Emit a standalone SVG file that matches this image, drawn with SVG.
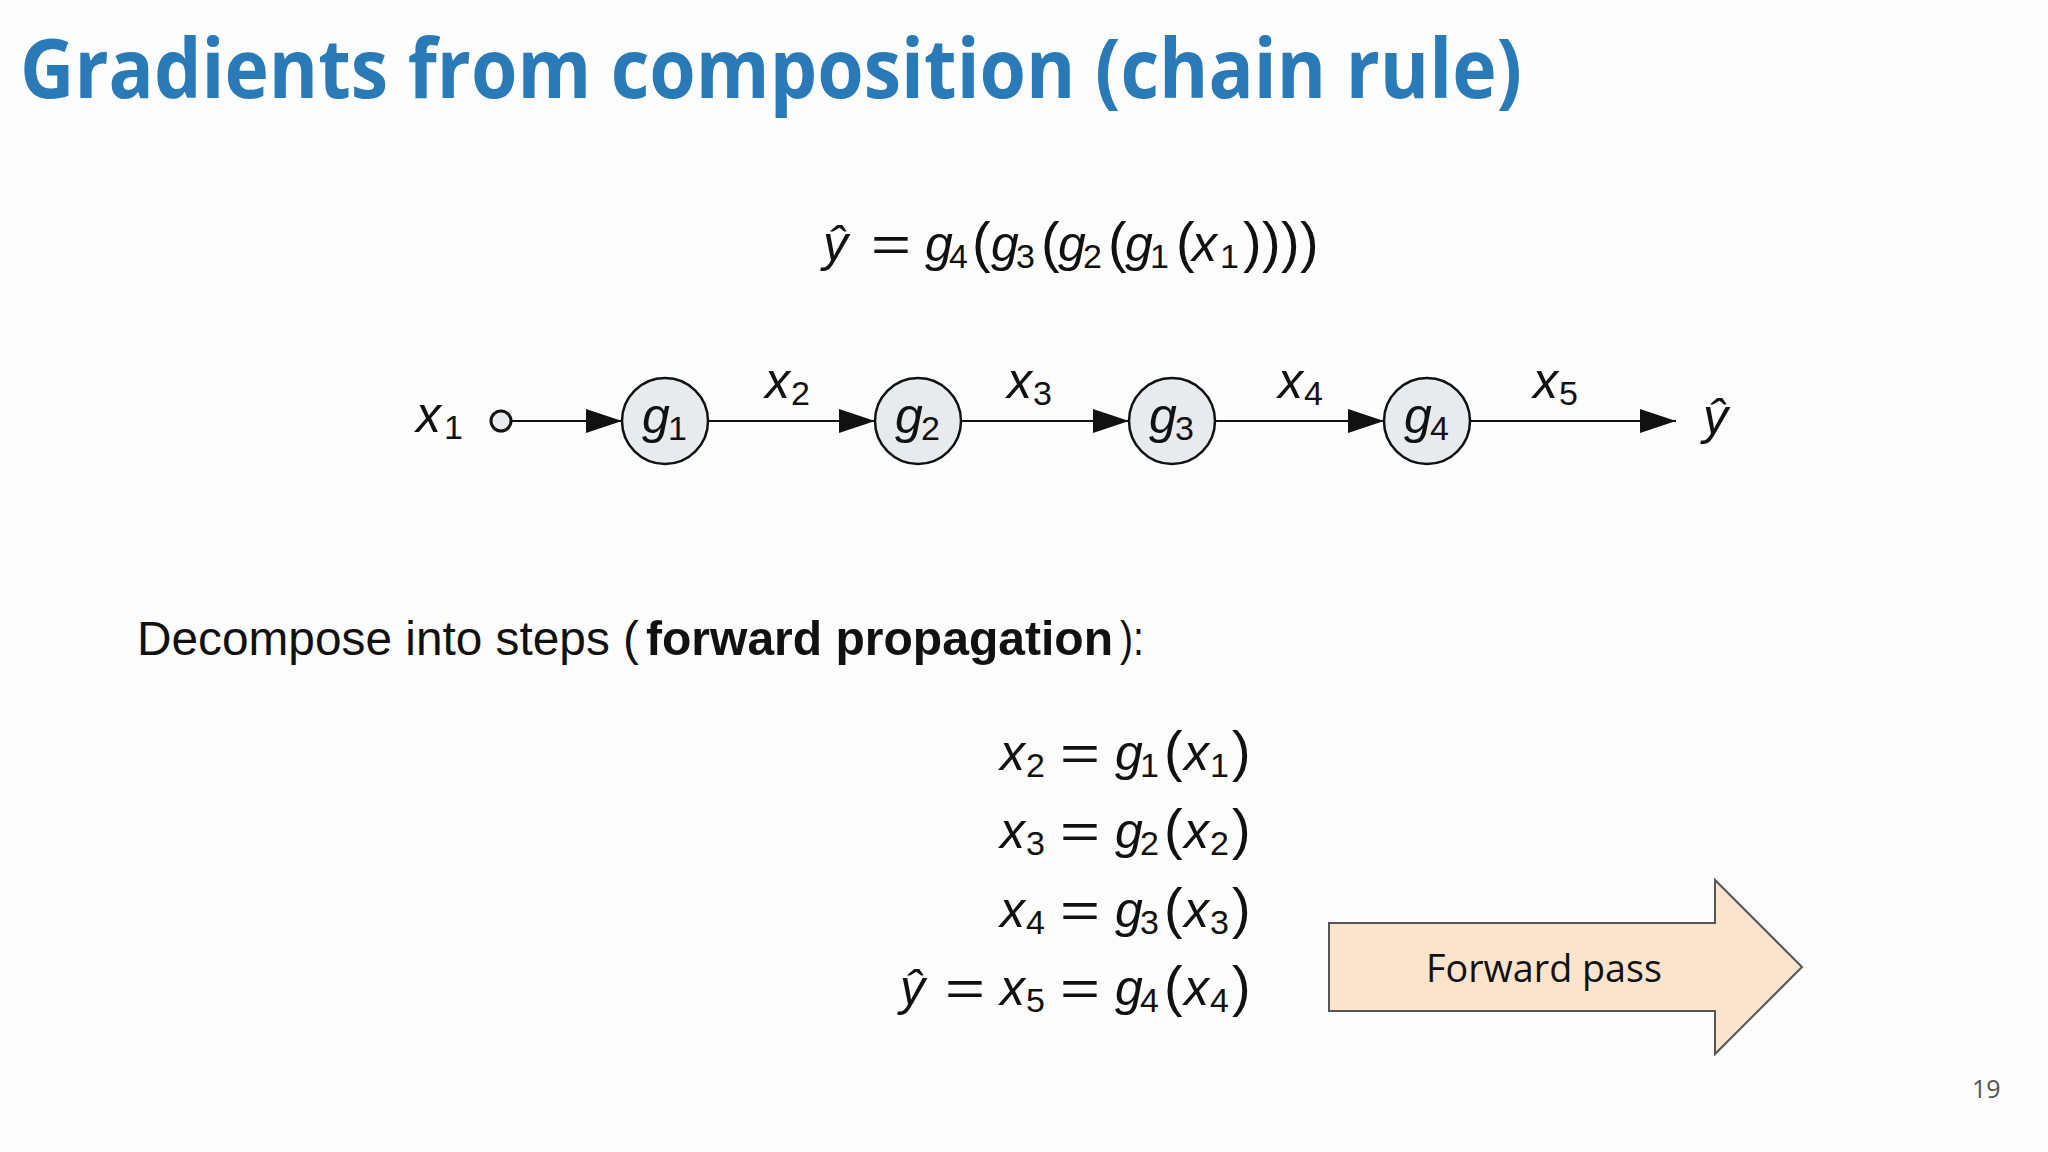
<svg xmlns="http://www.w3.org/2000/svg" width="2048" height="1152" viewBox="0 0 2048 1152">
<style>
.title{font-family:"Open Sans","Liberation Sans",sans-serif;font-weight:700;font-size:82px;fill:#2a7ab8}
.m{font-family:"Liberation Sans","DejaVu Sans",sans-serif;font-size:50px;fill:#111}
.v{font-style:italic}
.s{font-size:34px;font-style:normal}
.p{font-size:56px;font-style:normal}
.body{font-family:"Liberation Sans","DejaVu Sans",sans-serif;font-size:48px;fill:#111}
.node{fill:#e9eaeb;stroke:#111;stroke-width:2.5}
.edge{stroke:#111;stroke-width:2.2;fill:none;marker-end:url(#ah)}
.fp{font-family:"Open Sans","Noto Sans",sans-serif;font-size:38px;fill:#111}
</style>
<defs>
<marker id="ah" markerUnits="userSpaceOnUse" markerWidth="36" markerHeight="24" refX="36" refY="12" orient="auto">
<path d="M0,0 L36,12 L0,24 z" fill="#111"/>
</marker>
</defs>
<rect width="2048" height="1152" fill="#fdfdfd"/>
<text class="title" x="20" y="98" textLength="1502" lengthAdjust="spacingAndGlyphs">Gradients from composition (chain rule)</text>

<g id="top-equation">
<text class="m" x="823" y="261"><tspan class="v">ŷ</tspan><tspan x="925" class="v">g</tspan><tspan x="949" dy="7" class="s">4</tspan><tspan x="972" dy="-7" class="p">(</tspan><tspan x="991" class="v">g</tspan><tspan x="1016" dy="7" class="s">3</tspan><tspan x="1041" dy="-7" class="p">(</tspan><tspan x="1058" class="v">g</tspan><tspan x="1083" dy="7" class="s">2</tspan><tspan x="1108" dy="-7" class="p">(</tspan><tspan x="1125" class="v">g</tspan><tspan x="1150" dy="7" class="s">1</tspan><tspan x="1176" dy="-7" class="p">(</tspan><tspan x="1192" class="v">x</tspan><tspan x="1220" dy="7" class="s">1</tspan><tspan x="1243" dy="-7" class="p">)</tspan><tspan x="1262" class="p">)</tspan><tspan x="1281" class="p">)</tspan><tspan x="1300" class="p">)</tspan></text>
<text class="m" x="871" y="261" textLength="40" lengthAdjust="spacingAndGlyphs">=</text>
</g>

<g id="connectors">
<line class="edge" x1="512" y1="421" x2="622" y2="421"/>
<line class="edge" x1="708" y1="421" x2="875" y2="421"/>
<line class="edge" x1="961" y1="421" x2="1129" y2="421"/>
<line class="edge" x1="1215" y1="421" x2="1384" y2="421"/>
<line class="edge" x1="1470" y1="421" x2="1676" y2="421"/>
</g>

<g id="edge-labels">
<text class="m" x="765" y="398"><tspan class="v">x</tspan><tspan x="791" dy="7" class="s">2</tspan></text>
<text class="m" x="1007" y="398"><tspan class="v">x</tspan><tspan x="1033" dy="7" class="s">3</tspan></text>
<text class="m" x="1278" y="398"><tspan class="v">x</tspan><tspan x="1304" dy="7" class="s">4</tspan></text>
<text class="m" x="1533" y="398"><tspan class="v">x</tspan><tspan x="1559" dy="7" class="s">5</tspan></text>
</g>

<g id="input-x1">
<circle cx="501" cy="421" r="10" fill="#e9eaeb" stroke="#111" stroke-width="3"/>
<text class="m" x="416" y="432"><tspan class="v">x</tspan><tspan x="444" dy="7" class="s">1</tspan></text>
</g>
<g id="node-g1">
<circle class="node" cx="665" cy="421" r="43"/>
<text class="m" x="642" y="433"><tspan class="v">g</tspan><tspan x="668" dy="7" class="s">1</tspan></text>
</g>
<g id="node-g2">
<circle class="node" cx="918" cy="421" r="43"/>
<text class="m" x="895" y="433"><tspan class="v">g</tspan><tspan x="921" dy="7" class="s">2</tspan></text>
</g>
<g id="node-g3">
<circle class="node" cx="1172" cy="421" r="43"/>
<text class="m" x="1149" y="433"><tspan class="v">g</tspan><tspan x="1175" dy="7" class="s">3</tspan></text>
</g>
<g id="node-g4">
<circle class="node" cx="1427" cy="421" r="43"/>
<text class="m" x="1404" y="433"><tspan class="v">g</tspan><tspan x="1430" dy="7" class="s">4</tspan></text>
</g>
<g id="output-yhat">
<text class="m v" x="1703" y="434">ŷ</text>
</g>

<g id="decompose">
<text class="body" x="137" y="655" textLength="502" lengthAdjust="spacingAndGlyphs">Decompose into steps (</text>
<text class="body" x="646" y="655" font-weight="700" textLength="467" lengthAdjust="spacingAndGlyphs">forward propagation</text>
<text class="body" x="1120" y="655" textLength="24" lengthAdjust="spacingAndGlyphs">):</text>
</g>

<g id="steps">
<text class="m" x="1000" y="770"><tspan class="v">x</tspan><tspan x="1026" dy="7" class="s">2</tspan><tspan x="1164" dy="-7" class="p">(</tspan><tspan x="1115" class="v">g</tspan><tspan x="1140" dy="7" class="s">1</tspan><tspan x="1184" dy="-7" class="v">x</tspan><tspan x="1210" dy="7" class="s">1</tspan><tspan x="1232" dy="-7" class="p">)</tspan></text>
<text class="m" x="1000" y="848"><tspan class="v">x</tspan><tspan x="1026" dy="7" class="s">3</tspan><tspan x="1164" dy="-7" class="p">(</tspan><tspan x="1115" class="v">g</tspan><tspan x="1140" dy="7" class="s">2</tspan><tspan x="1184" dy="-7" class="v">x</tspan><tspan x="1210" dy="7" class="s">2</tspan><tspan x="1232" dy="-7" class="p">)</tspan></text>
<text class="m" x="1000" y="927"><tspan class="v">x</tspan><tspan x="1026" dy="7" class="s">4</tspan><tspan x="1164" dy="-7" class="p">(</tspan><tspan x="1115" class="v">g</tspan><tspan x="1140" dy="7" class="s">3</tspan><tspan x="1184" dy="-7" class="v">x</tspan><tspan x="1210" dy="7" class="s">3</tspan><tspan x="1232" dy="-7" class="p">)</tspan></text>
<text class="m" x="900" y="1005"><tspan class="v">ŷ</tspan><tspan x="1000" class="v">x</tspan><tspan x="1026" dy="7" class="s">5</tspan><tspan x="1164" dy="-7" class="p">(</tspan><tspan x="1115" class="v">g</tspan><tspan x="1140" dy="7" class="s">4</tspan><tspan x="1184" dy="-7" class="v">x</tspan><tspan x="1210" dy="7" class="s">4</tspan><tspan x="1232" dy="-7" class="p">)</tspan></text>
<text class="m" x="1060" y="770" textLength="40" lengthAdjust="spacingAndGlyphs">=</text>
<text class="m" x="1060" y="848" textLength="40" lengthAdjust="spacingAndGlyphs">=</text>
<text class="m" x="1060" y="927" textLength="40" lengthAdjust="spacingAndGlyphs">=</text>
<text class="m" x="1060" y="1005" textLength="40" lengthAdjust="spacingAndGlyphs">=</text>
<text class="m" x="945" y="1005" textLength="40" lengthAdjust="spacingAndGlyphs">=</text>
</g>

<g id="forward-pass">
<path d="M1329,923 L1715,923 L1715,880 L1802,967 L1715,1054 L1715,1011 L1329,1011 Z" fill="#fce3cc" stroke="#555" stroke-width="2"/>
<text class="fp" x="1426" y="982" textLength="236" lengthAdjust="spacingAndGlyphs">Forward pass</text>
</g>

<text x="1972" y="1098" font-family="Open Sans, Noto Sans, sans-serif" font-size="25" fill="#555">19</text>
</svg>
